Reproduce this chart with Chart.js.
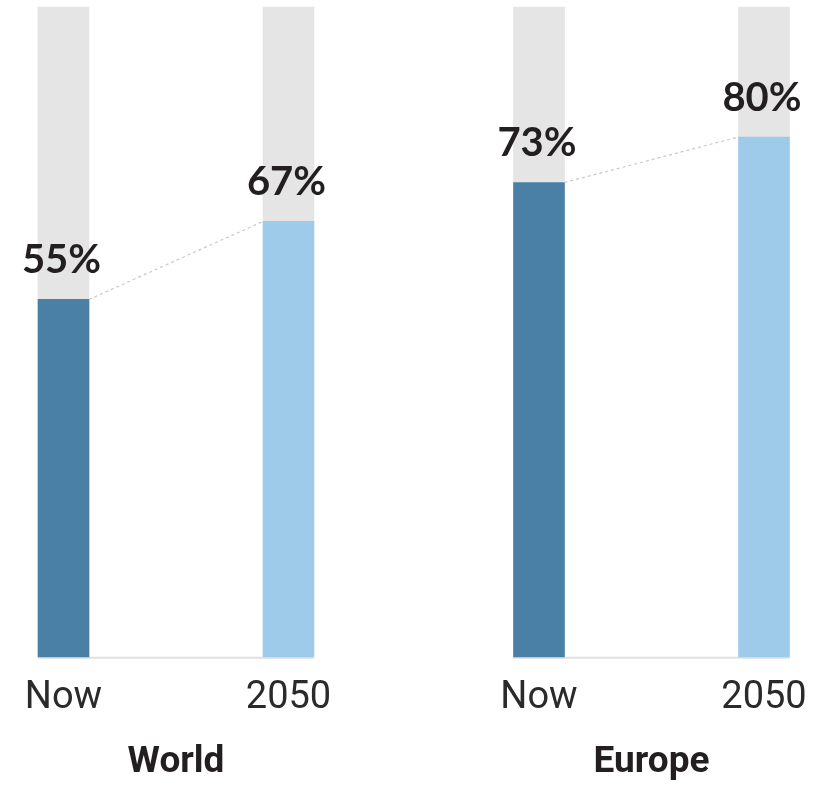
<!DOCTYPE html>
<html>
<head>
<meta charset="utf-8">
<script src="https://cdn.jsdelivr.net/npm/chart.js@4.4.1/dist/chart.umd.min.js"></script>
<style>
  html, body { margin: 0; padding: 0; background: #fff; }
  .wrap { position: relative; width: 813px; height: 785px; display: flex; overflow: hidden; }
  .cell { position: relative; height: 785px; flex-shrink: 0; }
  #worldCell { width: 406px; }
  #europeCell { width: 440px; }
</style>
</head>
<body>
<div class="wrap">
  <div class="cell" id="worldCell"><canvas id="worldChart"></canvas></div>
  <div class="cell" id="europeCell"><canvas id="europeChart"></canvas></div>
</div>
<script>
// == Data ==
const periods = ["Now", "2050"];
const worldShare = [55, 67];
const europeShare = [73, 80];
const regionTitles = ["World", "Europe"];

// == Colours ==
const nowColor = "#4a80a5";
const futureColor = "#9fcbeb";
const trackColor = "#e5e5e5";
const textColor = "#231f20";

// draws the % labels, the dotted link and the baseline from the bar elements
const barDecor = {
  id: "barDecor",
  beforeDatasetsDraw(chart) {
    const bars = chart.getDatasetMeta(0).data;
    const ctx = chart.ctx;
    const first = bars[0], last = bars[bars.length - 1];
    ctx.save();
    ctx.strokeStyle = "#e0e0e0";
    ctx.lineWidth = 2;
    ctx.beginPath();
    ctx.moveTo(first.x - first.width / 2, first.base + 1);
    ctx.lineTo(last.x + last.width / 2, last.base + 1);
    ctx.stroke();
    ctx.restore();
  },
  afterDatasetsDraw(chart) {
    const bars = chart.getDatasetMeta(0).data;
    const values = chart.data.datasets[0].data;
    const ctx = chart.ctx;
    ctx.save();

    // dotted link between bar tops
    ctx.strokeStyle = "#c8c8c8";
    ctx.lineWidth = 1.2;
    ctx.setLineDash([3, 3]);
    ctx.beginPath();
    ctx.moveTo(bars[0].x + bars[0].width / 2, bars[0].y);
    ctx.lineTo(bars[1].x - bars[1].width / 2, bars[1].y);
    ctx.stroke();
    ctx.setLineDash([]);

    // value labels
    ctx.fillStyle = textColor;
    ctx.font = "bold 40px Lato, 'Open Sans', sans-serif";
    ctx.textAlign = "center";
    ctx.textBaseline = "alphabetic";
    bars.forEach((bar, i) => {
      ctx.fillText(values[i] + "%", bar.x - 2, bar.y - 26);
    });
    ctx.restore();
  }
};

function makeChart(canvasId, title, shares, padLeft, padRight) {
  const ctx = document.getElementById(canvasId).getContext("2d");
  return new Chart(ctx, {
    type: "bar",
    data: {
      labels: periods,
      datasets: [
        {
          data: shares,
          backgroundColor: [nowColor, futureColor],
          barThickness: 51,
          clip: false
        },
        {
          data: shares.map(v => 100 - v),
          backgroundColor: trackColor,
          barThickness: 51,
          clip: false
        }
      ]
    },
    options: {
      responsive: true,
      maintainAspectRatio: false,
      animation: false,
      layout: {
        padding: { top: 7, left: padLeft, right: padRight, bottom: 0 }
      },
      plugins: {
        legend: { display: false },
        tooltip: { enabled: false }
      },
      scales: {
        x: {
          stacked: true,
          offset: false,
          grid: { display: false, drawTicks: false },
          border: { display: false },
          ticks: {
            color: "#2a2a2a",
            padding: 22,
            font: { family: "Roboto", size: 38, weight: "normal", lineHeight: 1.02 }
          },
          title: {
            display: true,
            text: title,
            color: textColor,
            padding: { top: 1, bottom: 0 },
            font: { family: "Roboto", size: 37, weight: "bold" }
          }
        },
        y: {
          stacked: true,
          display: false,
          min: 0,
          max: 100
        }
      }
    },
    plugins: [barDecor]
  });
}

makeChart("worldChart", regionTitles[0], worldShare, 63.5, 117.5);
makeChart("europeChart", regionTitles[1], europeShare, 133, 82);
</script>
</body>
</html>
